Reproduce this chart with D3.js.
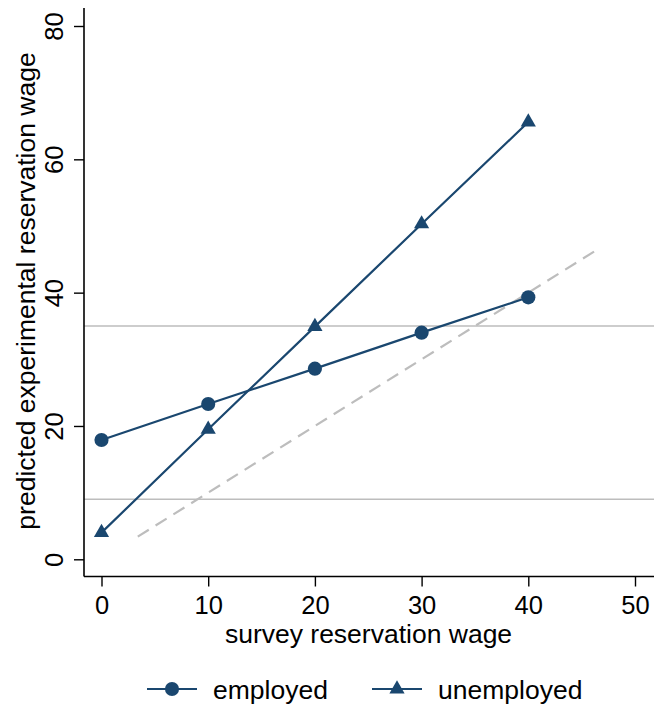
<!DOCTYPE html>
<html>
<head>
<meta charset="utf-8">
<script src="https://d3js.org/d3.v7.min.js"></script>
<style>
  html, body { margin: 0; padding: 0; background: #fff; }
  text { font-family: "Liberation Sans", Arial, Helvetica, sans-serif; fill: #000; }
</style>
</head>
<body>
<svg id="chart" width="654" height="708"></svg>
<script>
// Survey reservation wage (x) vs predicted experimental reservation wage (y)
const surveyWage = [0, 10, 20, 30, 40];
const employed = [17.9, 23.3, 28.6, 34.0, 39.3];
const unemployed = [4.0, 19.5, 34.9, 50.3, 65.6];
const refLevels = [35, 9];
const diagonal = [3.4, 46.6];
const xTicks = [0, 10, 20, 30, 40, 50];
const yTicks = [0, 20, 40, 60, 80];
const seriesNames = ["employed", "unemployed"];

const navy = "#1a476f";
const gray = "#bdbdbd";
const tickFont = 25.5;
const titleFont = 26.5;

const svg = d3.select("#chart");

const x = d3.scaleLinear().domain([0, 50]).range([101.5, 635]);
const y = d3.scaleLinear().domain([0, 80]).range([559.3, 26]);

const plotLeft = 84, plotBottom = 576.5, plotTop = 8, plotRight = 654;

// reference lines
svg.selectAll("line.ref").data(refLevels).join("line")
  .attr("class", "ref")
  .attr("x1", plotLeft).attr("x2", plotRight)
  .attr("y1", d => y(d)).attr("y2", d => y(d))
  .attr("stroke", gray).attr("stroke-width", 1.6);

// 45-degree line
svg.append("line")
  .attr("x1", x(diagonal[0])).attr("y1", y(diagonal[0]))
  .attr("x2", x(diagonal[1])).attr("y2", y(diagonal[1]))
  .attr("stroke", gray).attr("stroke-width", 2.2)
  .attr("stroke-dasharray", "13,8");

// axes
const yAxis = d3.axisLeft(y).tickValues(yTicks).tickSize(10).tickPadding(6);
const gy = svg.append("g").attr("transform", `translate(${plotLeft},0)`).call(yAxis);
gy.attr("font-size", null).attr("font-family", null);
gy.select(".domain").attr("d", `M0,${plotBottom}V${plotTop}`).attr("stroke", "#000").attr("stroke-width", 1.6);
gy.selectAll(".tick line").attr("stroke", "#000").attr("stroke-width", 1.4);
gy.selectAll(".tick text")
  .attr("font-size", tickFont)
  .attr("x", null).attr("dy", null)
  .attr("text-anchor", "middle")
  .attr("transform", "translate(-21,0) rotate(-90)")
  .attr("y", 0);

const xAxis = d3.axisBottom(x).tickValues(xTicks).tickSize(10).tickPadding(9.5);
const gx = svg.append("g").attr("transform", `translate(0,${plotBottom})`).call(xAxis);
gx.attr("font-size", null).attr("font-family", null);
gx.select(".domain").attr("d", `M${plotLeft},0H${plotRight}`).attr("stroke", "#000").attr("stroke-width", 1.6);
gx.selectAll(".tick line").attr("stroke", "#000").attr("stroke-width", 1.4);
gx.selectAll(".tick text").attr("font-size", tickFont);

// axis titles
svg.append("text")
  .attr("x", 368.5).attr("y", 643)
  .attr("text-anchor", "middle").attr("font-size", titleFont)
  .text("survey reservation wage");
svg.append("text")
  .attr("transform", `translate(35,291) rotate(-90)`)
  .attr("text-anchor", "middle").attr("font-size", titleFont)
  .text("predicted experimental reservation wage");

// series
const line = d3.line().x(d => x(d[0])).y(d => y(d[1]));
const empPts = surveyWage.map((v, i) => [v, employed[i]]);
const unPts = surveyWage.map((v, i) => [v, unemployed[i]]);

svg.append("path").attr("d", line(empPts)).attr("fill", "none")
  .attr("stroke", navy).attr("stroke-width", 2.2);
svg.append("path").attr("d", line(unPts)).attr("fill", "none")
  .attr("stroke", navy).attr("stroke-width", 2.2);

const circleSym = d3.symbol().type(d3.symbolCircle).size(158);
const triSym = d3.symbol().type(d3.symbolTriangle).size(100);

svg.selectAll("path.emp").data(empPts).join("path")
  .attr("class", "emp")
  .attr("d", circleSym)
  .attr("transform", d => `translate(${x(d[0])},${y(d[1])})`)
  .attr("fill", navy);

svg.selectAll("path.unemp").data(unPts).join("path")
  .attr("class", "unemp")
  .attr("d", triSym)
  .attr("transform", d => `translate(${x(d[0])},${y(d[1])})`)
  .attr("fill", navy);

// legend
const legendY = 689;
const legendItems = [
  { name: seriesNames[0], x0: 147, sym: circleSym, tx: 213 },
  { name: seriesNames[1], x0: 372, sym: triSym, tx: 438 }
];
legendItems.forEach(it => {
  svg.append("line").attr("x1", it.x0).attr("x2", it.x0 + 50)
    .attr("y1", legendY).attr("y2", legendY)
    .attr("stroke", navy).attr("stroke-width", 2.2);
  svg.append("path").attr("d", it.sym)
    .attr("transform", `translate(${it.x0 + 25},${legendY})`)
    .attr("fill", navy);
  svg.append("text").attr("x", it.tx).attr("y", 699)
    .attr("font-size", titleFont).text(it.name);
});
</script>
</body>
</html>
